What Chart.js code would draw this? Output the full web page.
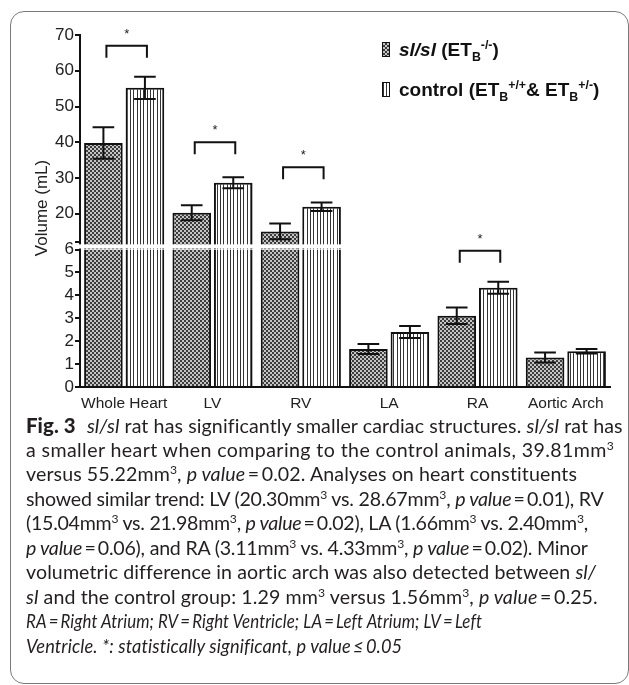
<!DOCTYPE html>
<html>
<head>
<meta charset="utf-8">
<script src="https://cdn.jsdelivr.net/npm/chart.js@4.4.0/dist/chart.umd.min.js"></script>
<style>
  body { margin: 0; background: #fff; width: 629px; height: 685px; overflow: hidden; position: relative; font-family: 'Liberation Sans', Arial, sans-serif; }
  .frame { position: absolute; left: 10px; top: 11px; width: 619px; height: 673px; box-sizing: border-box; border: 1.5px solid #7a7a7a; border-radius: 14px; }
  #chart { position: absolute; left: 0; top: 0; }
  .legend-row { position: absolute; left: 382px; font-size: 19px; font-weight: bold; color: #111; white-space: nowrap; line-height: 22px; }
  .legend-row sub, .legend-row sup { font-size: 0.65em; line-height: 0; }
  .swatch { display: inline-block; width: 6px; height: 13px; border: 1px solid #111; margin-right: 9px; vertical-align: -1px; }
  .sw-slsl { background: repeating-conic-gradient(#3c3c3c 0 25%, #c4c4c4 0 50%) 0 0 / 4px 4px; }
  .sw-control { background: repeating-linear-gradient(90deg, #333 0 1px, #fff 1px 3px); }
  .caption { position: absolute; left: 26px; top: 413px; font-family: Lato, 'Noto Sans', sans-serif; font-size: 19.6px; letter-spacing: 0.1px; line-height: 24.5px; color: #231f20; white-space: nowrap; }
  .caption div { height: 24.5px; }
  .caption .sq { display: inline-block; transform-origin: 0 50%; }
  .caption sup { font-size: 0.62em; line-height: 0; vertical-align: 0.6em; }
  .caption b { font-weight: 900; font-size: 1.04em; margin-right: 6px; }
</style>
</head>
<body>
<div class="frame"></div>
<canvas id="chart" width="629" height="415"></canvas>

<div class="legend-row" style="top: 39px;"><span class="swatch sw-slsl"></span><i>sl/sl</i> (ET<sub>B</sub><sup>-/-</sup>)</div>
<div class="legend-row" style="top: 79px;"><span class="swatch sw-control"></span>control (ET<sub>B</sub><sup>+/+</sup>&amp; ET<sub>B</sub><sup>+/-</sup>)</div>

<div class="caption">
<div><b>Fig. 3</b> <i>sl/sl</i> rat has significantly smaller cardiac structures. <i>sl/sl</i> rat has</div>
<div style="letter-spacing: 0.4px;">a smaller heart when comparing to the control animals, 39.81mm<sup>3</sup></div>
<div>versus 55.22mm<sup>3</sup>, <i>p value</i>&thinsp;=&thinsp;0.02. Analyses on heart constituents</div>
<div style="letter-spacing: -0.22px;">showed similar trend: LV (20.30mm<sup>3</sup> vs. 28.67mm<sup>3</sup>, <i>p value</i>&thinsp;=&thinsp;0.01), RV</div>
<div style="letter-spacing: -0.27px;">(15.04mm<sup>3</sup> vs. 21.98mm<sup>3</sup>, <i>p value</i>&thinsp;=&thinsp;0.02), LA (1.66mm<sup>3</sup> vs. 2.40mm<sup>3</sup>,</div>
<div style="letter-spacing: -0.22px;"><i>p value</i>&thinsp;=&thinsp;0.06), and RA (3.11mm<sup>3</sup> vs. 4.33mm<sup>3</sup>, <i>p value</i>&thinsp;=&thinsp;0.02). Minor</div>
<div>volumetric difference in aortic arch was also detected between <i>sl/</i></div>
<div><i>sl</i> and the control group: 1.29 mm<sup>3</sup> versus 1.56mm<sup>3</sup>, <i>p value</i>&thinsp;=&thinsp;0.25.</div>
<div><i class="sq" style="transform: scaleX(0.86);">RA&thinsp;=&thinsp;Right Atrium; RV&thinsp;=&thinsp;Right Ventricle; LA&thinsp;=&thinsp;Left Atrium; LV&thinsp;=&thinsp;Left</i></div>
<div><i class="sq" style="transform: scaleX(0.93);">Ventricle. *: statistically significant, p value&thinsp;≤&thinsp;0.05</i></div>
</div>

<script>
// data (means from the caption, SEM estimated from the whiskers)
const categories = ['Whole Heart', 'LV', 'RV', 'LA', 'RA', 'Aortic Arch'];
const slslMeans = [39.81, 20.30, 15.04, 1.66, 3.11, 1.29];
const slslErrors = [4.4, 2.1, 2.2, 0.22, 0.36, 0.22];
const controlMeans = [55.22, 28.67, 21.98, 2.40, 4.33, 1.56];
const controlErrors = [3.1, 1.55, 1.2, 0.26, 0.26, 0.1];
// height of the significance bracket for each category (null = none)
const bracketLevels = [67, 40, 33, null, 5.95, null];

// broken y axis: two segments
const lowerRange = [0, 6];
const upperRange = [10, 70];
const lowerTicks = [0, 1, 2, 3, 4, 5, 6];
const upperTicks = [12, 20, 30, 40, 50, 60, 70];

document.addEventListener('DOMContentLoaded', function() {
    const canvas = document.getElementById('chart');
    const ctx = canvas.getContext('2d');
    const FONT = "'Liberation Sans', Arial, sans-serif";
    const INK = '#111';

    // fill patterns
    function checkerTile() {
        const t = document.createElement('canvas');
        t.width = 4; t.height = 4;
        const g = t.getContext('2d');
        g.fillStyle = '#c4c4c4';
        g.fillRect(0, 0, 4, 4);
        g.fillStyle = '#3c3c3c';
        g.fillRect(0, 0, 2, 2);
        g.fillRect(2, 2, 2, 2);
        return t;
    }
    function stripeTile() {
        const t = document.createElement('canvas');
        t.width = 10; t.height = 4;
        const g = t.getContext('2d');
        g.fillStyle = '#fff';
        g.fillRect(0, 0, 10, 4);
        g.fillStyle = '#333';
        [0, 3, 7].forEach(x => g.fillRect(x, 0, 1, 4));
        return t;
    }
    const slslFill = ctx.createPattern(checkerTile(), 'repeat');
    const controlFill = ctx.createPattern(stripeTile(), 'repeat');

    const onUpper = v => v > lowerRange[1];
    const scaleFor = (chart, v) => onUpper(v) ? chart.scales.yTop : chart.scales.yLow;

    // keep each dataset inside its own axis segment
    const segmentClip = {
        id: 'segmentClip',
        beforeDatasetDraw(chart, args) {
            const s = chart.scales[args.meta.yAxisID];
            const a = chart.chartArea;
            chart.ctx.save();
            chart.ctx.beginPath();
            chart.ctx.rect(a.left, s.top, a.right - a.left, s.bottom - s.top);
            chart.ctx.clip();
        },
        afterDatasetDraw(chart) {
            chart.ctx.restore();
        }
    };

    // whiskers
    const errorBars = {
        id: 'errorBars',
        afterDatasetsDraw(chart) {
            const c = chart.ctx;
            c.save();
            c.strokeStyle = INK;
            c.lineWidth = 2;
            [[0, slslMeans, slslErrors], [1, controlMeans, controlErrors]].forEach(([di, means, errs]) => {
                const meta = chart.getDatasetMeta(di);
                means.forEach((m, i) => {
                    const s = scaleFor(chart, m);
                    const bar = meta.data[i];
                    const hi = s.getPixelForValue(m + errs[i]);
                    const lo = s.getPixelForValue(m - errs[i]);
                    const half = bar.width * 0.28;
                    c.beginPath();
                    c.moveTo(bar.x, hi); c.lineTo(bar.x, lo);
                    c.moveTo(bar.x - half, hi); c.lineTo(bar.x + half, hi);
                    c.moveTo(bar.x - half, lo); c.lineTo(bar.x + half, lo);
                    c.stroke();
                });
            });
            c.restore();
        }
    };

    // axis break, brackets, y title
    const extras = {
        id: 'extras',
        afterDraw(chart) {
            const c = chart.ctx;
            const a = chart.chartArea;
            const top = chart.scales.yTop;
            const low = chart.scales.yLow;
            c.save();

            // white gap between the two segments
            const g1 = top.getPixelForValue(upperTicks[0]) + 2;
            const g2 = low.top - 1;
            c.fillStyle = '#fff';
            c.fillRect(a.left - 4, g1, a.right - a.left + 6, g2 - g1);

            // significance brackets
            const m0 = chart.getDatasetMeta(0);
            const m1 = chart.getDatasetMeta(1);
            c.strokeStyle = INK;
            c.lineWidth = 2;
            c.fillStyle = '#222';
            c.font = '13px ' + FONT;
            c.textAlign = 'center';
            c.textBaseline = 'alphabetic';
            bracketLevels.forEach((lvl, i) => {
                if (lvl === null) return;
                const y = scaleFor(chart, lvl).getPixelForValue(lvl);
                const x1 = m0.data[i].x + 3;
                const x2 = m1.data[i].x + 2;
                c.beginPath();
                c.moveTo(x1, y + 12); c.lineTo(x1, y); c.lineTo(x2, y); c.lineTo(x2, y + 12);
                c.stroke();
                c.fillText('*', (x1 + x2) / 2, y - 8);
            });

            // y axis title
            c.translate(42, (a.top + a.bottom) / 2 - 3);
            c.rotate(-Math.PI / 2);
            c.font = '17px ' + FONT;
            c.textBaseline = 'middle';
            c.fillText('Volume (mL)', 0, 0);
            c.restore();
        }
    };

    const barStyle = {
        borderColor: INK,
        borderWidth: 2,
        categoryPercentage: 0.94,
        barPercentage: 0.93
    };
    const yTicks = { color: '#222', font: { size: 17, family: FONT }, padding: 1, autoSkip: false };
    const yGrid = { drawOnChartArea: false, color: INK, lineWidth: 2, tickLength: 5 };

    new Chart(canvas, {
        type: 'bar',
        data: {
            labels: categories,
            datasets: [
                Object.assign({ label: 'sl/sl', data: slslMeans, yAxisID: 'yLow', stack: 'slsl', backgroundColor: slslFill }, barStyle),
                Object.assign({ label: 'control', data: controlMeans, yAxisID: 'yLow', stack: 'control', backgroundColor: controlFill }, barStyle),
                Object.assign({ label: 'sl/sl', data: slslMeans.map(v => onUpper(v) ? v : null), yAxisID: 'yTop', stack: 'slsl', base: upperRange[0], backgroundColor: slslFill }, barStyle),
                Object.assign({ label: 'control', data: controlMeans.map(v => onUpper(v) ? v : null), yAxisID: 'yTop', stack: 'control', base: upperRange[0], backgroundColor: controlFill }, barStyle)
            ]
        },
        options: {
            responsive: false,
            animation: false,
            devicePixelRatio: 1,
            layout: { padding: { left: 40, right: 19, top: 35, bottom: 0 } },
            plugins: {
                legend: { display: false },
                tooltip: { enabled: false }
            },
            scales: {
                x: {
                    grid: { display: false, drawTicks: false },
                    border: { color: INK, width: 2 },
                    ticks: { color: '#222', font: { size: 15.5, family: FONT }, padding: 7, maxRotation: 0, autoSkip: false },
                    afterFit: s => { s.height = 28; }
                },
                yLow: {
                    position: 'left',
                    stack: 'v',
                    stackWeight: 1,
                    stacked: false,
                    min: lowerRange[0],
                    max: lowerRange[1],
                    grid: yGrid,
                    border: { color: INK, width: 2 },
                    ticks: yTicks,
                    afterBuildTicks: s => { s.ticks = lowerTicks.map(v => ({ value: v })); },
                    afterFit: s => { s.width = 40; }
                },
                yTop: {
                    position: 'left',
                    stack: 'v',
                    stackWeight: 1.56,
                    stacked: false,
                    min: upperRange[0],
                    max: upperRange[1],
                    grid: yGrid,
                    border: { color: INK, width: 2 },
                    ticks: Object.assign({ callback: v => v % 10 === 0 ? v : '' }, yTicks),
                    afterBuildTicks: s => { s.ticks = upperTicks.map(v => ({ value: v })); },
                    afterFit: s => { s.width = 40; }
                }
            }
        },
        plugins: [segmentClip, errorBars, extras]
    });
});
</script>
</body>
</html>
